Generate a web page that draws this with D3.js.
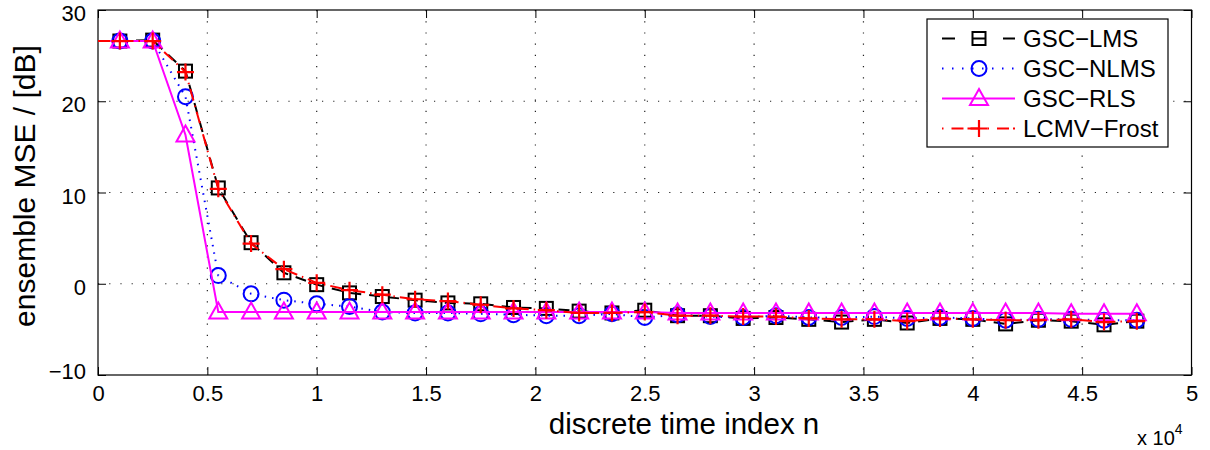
<!DOCTYPE html>
<html>
<head>
<meta charset="utf-8">
<script src="https://cdn.jsdelivr.net/npm/d3@7"></script>
<style>
  html, body { margin: 0; padding: 0; background: #fff; }
  svg { display: block; font-family: "Liberation Sans", Arial, Helvetica, sans-serif; }
</style>
</head>
<body>
<svg id="chart" width="1210" height="450"></svg>
<script>
// Sample positions (discrete time index, in units of 10^4); the first entry is the line start without a marker
const timeIndex = [0, 0.1, 0.25, 0.4, 0.55, 0.7, 0.85, 1.0, 1.15, 1.3, 1.45, 1.6, 1.75, 1.9, 2.05, 2.2, 2.35,
  2.5, 2.65, 2.8, 2.95, 3.1, 3.25, 3.4, 3.55, 3.7, 3.85, 4.0, 4.15, 4.3, 4.45, 4.6, 4.75];

// Ensemble MSE in dB for each algorithm
const mseLMS = [26.6, 26.6, 26.7, 23.3, 10.5, 4.5, 1.2, -0.1, -1.0, -1.4, -1.8, -2.1, -2.2, -2.6, -2.7, -3.0, -3.2,
  -2.9, -3.5, -3.5, -3.8, -3.7, -3.9, -4.2, -3.9, -4.3, -3.8, -3.9, -4.4, -4.0, -4.1, -4.5, -4.1];
const mseNLMS = [26.6, 26.6, 26.6, 20.5, 0.9, -1.1, -1.8, -2.2, -2.5, -3.1, -3.2, -3.2, -3.3, -3.4, -3.5, -3.5, -3.3,
  -3.7, -3.4, -3.6, -3.7, -3.5, -3.7, -3.7, -3.6, -3.8, -3.7, -3.8, -4.0, -3.9, -3.9, -4.0, -4.0];
const mseRLS = [26.6, 26.6, 26.6, 16.3, -3.1, -3.1, -3.1, -3.1, -3.1, -3.1, -3.1, -3.1, -3.1, -3.1, -3.1, -3.1, -3.1,
  -3.1, -3.2, -3.2, -3.2, -3.2, -3.2, -3.2, -3.2, -3.2, -3.2, -3.2, -3.2, -3.2, -3.3, -3.3, -3.3];
const mseFrost = [26.6, 26.6, 26.6, 23.2, 10.4, 4.4, 1.6, 0.1, -0.7, -1.2, -1.7, -1.9, -2.3, -2.7, -2.9, -3.2, -3.2,
  -3.1, -3.5, -3.5, -3.6, -3.6, -3.8, -3.9, -3.9, -4.1, -3.8, -3.9, -4.0, -4.0, -3.9, -4.2, -4.1];

const seriesNames = ["GSC\u2212LMS", "GSC\u2212NLMS", "GSC\u2212RLS", "LCMV\u2212Frost"];

const xTicks = [0, 0.5, 1, 1.5, 2, 2.5, 3, 3.5, 4, 4.5, 5];
const xTickLabels = ["0", "0.5", "1", "1.5", "2", "2.5", "3", "3.5", "4", "4.5", "5"];
const yTicks = [-10, 0, 10, 20, 30];
const yTickLabels = ["\u221210", "0", "10", "20", "30"];

const svg = d3.select("#chart");
const margin = { left: 98, top: 10, right: 1210 - 1191.5, bottom: 450 - 375 };
const W = 1210 - margin.left - margin.right;
const H = 450 - margin.top - margin.bottom;

const x = d3.scaleLinear().domain([0, 5]).range([0, W]);
const y = d3.scaleLinear().domain([-10, 30]).range([H, 0]);

const g = svg.append("g").attr("transform", `translate(${margin.left},${margin.top})`);

// Dotted grid
const grid = g.append("g").attr("class", "grid");
grid.selectAll("line.vx").data(xTicks.slice(1, -1)).join("line")
  .attr("x1", d => x(d)).attr("x2", d => x(d)).attr("y1", 0).attr("y2", H)
  .attr("stroke", "#222").attr("stroke-width", 1.2).attr("stroke-dasharray", "1.2,10");
grid.selectAll("line.hy").data(yTicks.slice(1, -1)).join("line")
  .attr("x1", 0).attr("x2", W).attr("y1", d => y(d)).attr("y2", d => y(d))
  .attr("stroke", "#222").attr("stroke-width", 1.2).attr("stroke-dasharray", "1.2,10");

// Axes with inward ticks on all four sides
const tickLen = 8;
const axBottom = g.append("g").attr("transform", `translate(0,${H})`)
  .call(d3.axisBottom(x).tickValues(xTicks).tickSizeInner(-tickLen).tickSizeOuter(0).tickPadding(10)
    .tickFormat((d, i) => xTickLabels[i]));
const axTop = g.append("g")
  .call(d3.axisTop(x).tickValues(xTicks).tickSizeInner(-tickLen).tickSizeOuter(0).tickFormat(""));
const axLeft = g.append("g")
  .call(d3.axisLeft(y).tickValues(yTicks).tickSizeInner(-tickLen).tickSizeOuter(0).tickPadding(12)
    .tickFormat((d, i) => yTickLabels[i]));
const axRight = g.append("g").attr("transform", `translate(${W},0)`)
  .call(d3.axisRight(y).tickValues(yTicks).tickSizeInner(-tickLen).tickSizeOuter(0).tickFormat(""));

[axBottom, axTop, axLeft, axRight].forEach(a => {
  a.select(".domain").remove();
  a.selectAll(".tick line").attr("stroke", "#000").attr("stroke-width", 1);
  a.selectAll(".tick text").attr("fill", "#000").attr("font-size", 22)
    .attr("font-family", "'Liberation Sans', Arial, sans-serif");
});
// Value labels sit slightly below their ticks; the lowest one is lifted off the x axis labels
axLeft.selectAll(".tick text").attr("dy", null)
  .attr("transform", d => `translate(0,${d === -10 ? -4 : 3})`)
  .attr("dominant-baseline", "central");

// Plot box
g.append("rect").attr("x", 0).attr("y", 0).attr("width", W).attr("height", H)
  .attr("fill", "none").attr("stroke", "#000").attr("stroke-width", 1.2);

const series = [
  { name: seriesNames[0], values: mseLMS, color: "#000", dash: "11,8", marker: "square" },
  { name: seriesNames[1], values: mseNLMS, color: "#0000ff", dash: "1.5,6", marker: "circle" },
  { name: seriesNames[2], values: mseRLS, color: "#ff00ff", dash: null, marker: "triangle" },
  { name: seriesNames[3], values: mseFrost, color: "#ff0000", dash: "12,5,1.5,5", marker: "plus" }
];

function drawMarker(sel, type, color) {
  if (type === "square") {
    sel.append("rect").attr("x", -6.5).attr("y", -6.5).attr("width", 13).attr("height", 13)
      .attr("fill", "none").attr("stroke", color).attr("stroke-width", 2);
  } else if (type === "circle") {
    sel.append("circle").attr("r", 7.5).attr("fill", "none").attr("stroke", color).attr("stroke-width", 2);
  } else if (type === "triangle") {
    sel.append("path").attr("d", "M0,-9.5 L9,6.5 L-9,6.5 Z")
      .attr("fill", "none").attr("stroke", color).attr("stroke-width", 2);
  } else if (type === "plus") {
    sel.append("path").attr("d", "M-8.5,0 H8.5 M0,-8.5 V8.5")
      .attr("fill", "none").attr("stroke", color).attr("stroke-width", 2.2);
  }
}

const line = d3.line().x((d, i) => x(timeIndex[i])).y(d => y(d));

const plot = g.append("g");
series.forEach(s => {
  const sg = plot.append("g");
  sg.append("path").datum(s.values).attr("d", line)
    .attr("fill", "none").attr("stroke", s.color).attr("stroke-width", 2)
    .attr("stroke-dasharray", s.dash);
  const pts = s.values.map((v, i) => ({ t: timeIndex[i], v })).slice(1);
  sg.selectAll("g.m").data(pts).join("g")
    .attr("transform", d => `translate(${x(d.t)},${y(d.v)})`)
    .each(function () { drawMarker(d3.select(this), s.marker, s.color); });
});

// Legend
const lg = svg.append("g").attr("transform", "translate(927,19)");
lg.append("rect").attr("width", 241).attr("height", 128)
  .attr("fill", "#fff").attr("stroke", "#000").attr("stroke-width", 1.2);
const legendDash = ["13,17,14,17,13", "1.5,8.5", null, "1.5,8,12,4,12,8"];
series.forEach((s, i) => {
  const yy = 19.5 + i * 30;
  lg.append("line").attr("x1", 15).attr("x2", 88).attr("y1", yy).attr("y2", yy)
    .attr("stroke", s.color).attr("stroke-width", 2)
    .attr("stroke-dasharray", legendDash[i]);
  const mg = lg.append("g").attr("transform", `translate(52,${yy})`);
  drawMarker(mg, s.marker, s.color);
  lg.append("text").attr("x", 96).attr("y", yy).attr("dy", "0.36em")
    .attr("font-size", 24).attr("fill", "#000").text(s.name);
});

// Axis titles
svg.append("text").attr("x", 684).attr("y", 434)
  .attr("text-anchor", "middle").attr("font-size", 29.5).attr("fill", "#000")
  .text("discrete time index n");
svg.append("text").attr("transform", `translate(35,186) rotate(-90)`)
  .attr("text-anchor", "middle").attr("font-size", 30).attr("fill", "#000")
  .text("ensemble MSE / [dB]");

// Exponent label of the x axis
const ex = svg.append("text").attr("x", 1137).attr("y", 445).attr("font-size", 20).attr("fill", "#000");
ex.append("tspan").text("x 10");
ex.append("tspan").attr("dy", -11).attr("font-size", 14).text("4");
</script>
</body>
</html>
